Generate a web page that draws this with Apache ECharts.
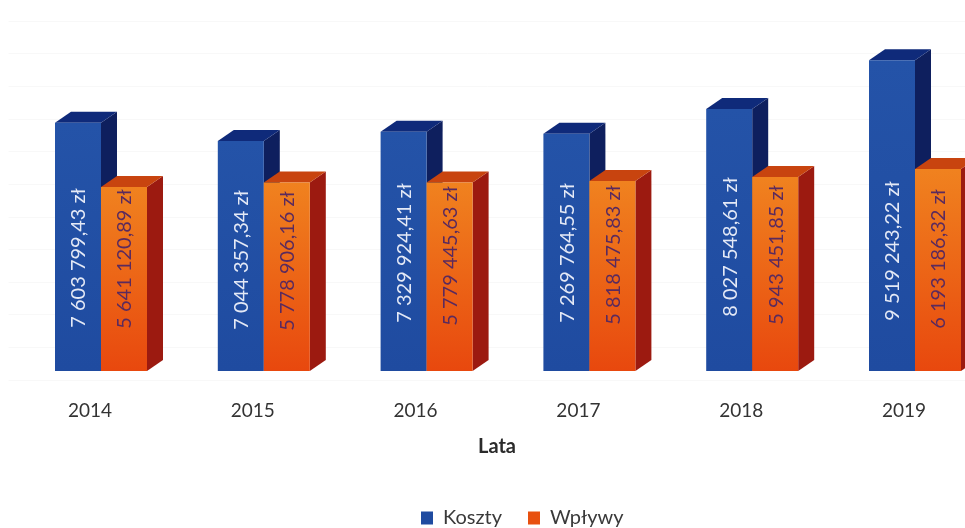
<!DOCTYPE html>
<html>
<head>
<meta charset="utf-8">
<style>
  html, body { margin: 0; padding: 0; background: #fff; overflow: hidden; }
  #chart { width: 965px; height: 528px; }
</style>
</head>
<body>
<div id="chart"></div>
<script src="https://cdn.jsdelivr.net/npm/echarts@6/dist/echarts.min.js"></script>
<script>
const years = ['2014', '2015', '2016', '2017', '2018', '2019'];
const koszty = [7603799.43, 7044357.34, 7329924.41, 7269764.55, 8027548.61, 9519243.22];
const wplywy = [5641120.89, 5778906.16, 5779445.63, 5818475.83, 5943451.85, 6193186.32];

const FONT = 'Lato, "Open Sans", sans-serif';
const DEPTH_X = 16;
const DEPTH_Y = 11;
const FLOOR_X = 11;
const FLOOR_Y = 9;
const BAR_W = 46;

// polish number format: 7 603 799,43 zł
function formatPln(v) {
    const parts = v.toFixed(2).split('.');
    return parts[0].replace(/\B(?=(\d{3})+$)/g, ' ') + ',' + parts[1] + ' zł';
}

function vGrad(a, b) {
    return new echarts.graphic.LinearGradient(0, 0, 0, 1, [
        { offset: 0, color: a },
        { offset: 1, color: b }
    ]);
}

function barRenderer(cfg) {
    return function (params, api) {
        const i = params.dataIndex;
        const top = api.coord([i, api.value(1)]);
        const base = api.coord([i, 0]);
        const x0 = base[0] + FLOOR_X + cfg.side * BAR_W;
        const x1 = x0 + BAR_W;
        const y0 = top[1] - FLOOR_Y;
        const y1 = base[1] - FLOOR_Y;
        const poly = (points, fill) => ({ type: 'polygon', shape: { points }, style: { fill } });
        return {
            type: 'group',
            children: [
                poly([[x1, y0], [x1 + DEPTH_X, y0 - DEPTH_Y], [x1 + DEPTH_X, y1 - DEPTH_Y], [x1, y1]], cfg.sideFill),
                poly([[x0, y0], [x0 + DEPTH_X, y0 - DEPTH_Y], [x1 + DEPTH_X, y0 - DEPTH_Y], [x1, y0]], cfg.topFill),
                {
                    type: 'rect',
                    shape: { x: x0, y: y0, width: BAR_W, height: y1 - y0 },
                    style: { fill: cfg.frontFill }
                },
                {
                    type: 'text',
                    x: (x0 + x1) / 2 + 1,
                    y: cfg.labelY + cfg.nudge[i],
                    rotation: Math.PI / 2,
                    style: {
                        text: formatPln(api.value(1)),
                        align: 'center',
                        verticalAlign: 'middle',
                        fill: cfg.textFill,
                        font: '20px ' + FONT
                    }
                }
            ]
        };
    };
}

const chart = echarts.init(document.getElementById('chart'), null, { renderer: 'canvas' });

chart.setOption({
    animation: false,
    backgroundColor: '#ffffff',
    // last bar runs off the right edge, same as the scan
    grid: { left: 8.6, width: 976.8, top: 21, bottom: 148, outerBoundsMode: 'none' },
    legend: {
        left: 416,
        top: 503,
        icon: 'rect',
        itemWidth: 12,
        itemHeight: 13,
        itemGap: 26,
        textStyle: { fontFamily: FONT, fontSize: 20, color: '#3a3a3a', padding: [0, 0, 0, 5] },
        data: ['Koszty', 'Wpływy']
    },
    xAxis: {
        type: 'category',
        data: years,
        name: 'Lata',
        nameLocation: 'middle',
        nameGap: 57,
        nameTextStyle: { fontFamily: FONT, fontSize: 20, fontWeight: 'bold', color: '#2b2b2b' },
        axisLine: { show: false },
        axisTick: { show: false },
        axisLabel: { fontFamily: FONT, fontSize: 19, color: '#333333', margin: 21 }
    },
    yAxis: {
        type: 'value',
        min: 0,
        max: 11000000,
        interval: 1000000,
        axisLine: { show: false },
        axisTick: { show: false },
        axisLabel: { show: false },
        splitLine: { lineStyle: { color: '#f8f8f8', width: 1 } }
    },
    series: [
        {
            name: 'Koszty',
            type: 'custom',
            clip: false,
            encode: { x: 0, y: 1 },
            itemStyle: { color: '#1f4ba0' },
            data: koszty.map((v, i) => [i, v]),
            renderItem: barRenderer({
                side: -1,
                frontFill: vGrad('#2453a8', '#1f4ba0'),
                topFill: '#0f2a7a',
                sideFill: '#0e1f5e',
                textFill: '#e4e9f6',
                labelY: 256,
                nudge: [2, 4, -3, -3, -9, -5]
            })
        },
        {
            name: 'Wpływy',
            type: 'custom',
            clip: false,
            encode: { x: 0, y: 1 },
            itemStyle: { color: '#e8500f' },
            data: wplywy.map((v, i) => [i, v]),
            renderItem: barRenderer({
                side: 0,
                frontFill: vGrad('#f0821f', '#e8480e'),
                topFill: '#c8440f',
                sideFill: '#9c1a10',
                textFill: '#5a2a5e',
                labelY: 258,
                nudge: [1, 3, -2, -3, -3, 1]
            })
        }
    ]
});
</script>
</body>
</html>
